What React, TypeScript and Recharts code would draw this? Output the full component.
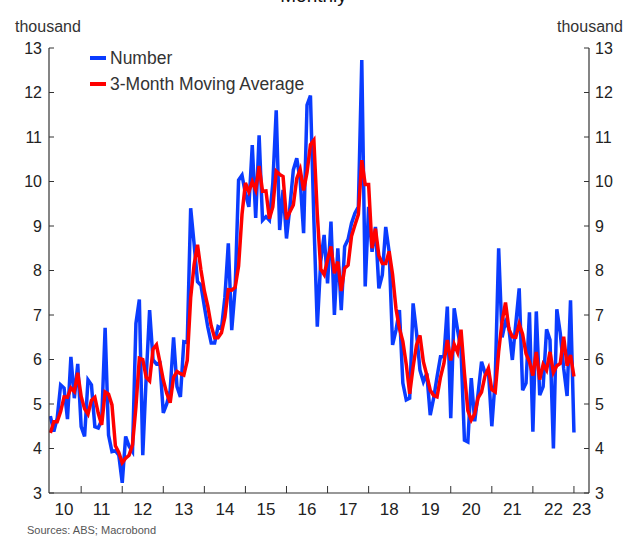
import { LineChart, Line, XAxis, YAxis } from "recharts";

// months counted from Jan 2010; first observation is Apr 2010
const START_MONTH = 3;

// Number, thousand (Apr 2010 - Jan 2023)
const number = [
  4.73, 4.38, 4.68, 5.43, 5.36, 4.66, 6.06, 5.13, 5.9,
  4.49, 4.27, 5.54, 5.43, 4.49, 4.46, 4.64, 6.71, 4.3, 3.93, 3.95, 3.85,
  3.23, 4.27, 4.05, 3.93, 6.81, 7.35, 3.85, 5.6, 7.11, 5.99, 5.9, 5.92,
  4.8, 5.0, 5.3, 6.5, 5.39, 5.16, 6.4, 6.38, 9.4, 8.6, 7.75, 7.67,
  7.19, 6.73, 6.37, 6.37, 6.74, 6.7, 7.4, 8.61, 6.66, 7.6, 10.03, 10.14,
  9.73, 9.43, 10.82, 9.18, 11.04, 9.13, 9.21, 9.13, 9.96, 11.6, 8.91, 9.81,
  8.72, 9.43, 10.26, 10.52, 10.03, 8.84, 11.72, 11.93, 9.14, 6.74, 8.2, 8.8,
  7.71, 9.1, 7.0, 8.5, 7.11, 8.54, 8.7, 9.06, 9.29, 9.43, 12.73, 7.64,
  9.43, 8.42, 8.98, 7.6, 7.9, 8.98, 8.42, 6.33, 6.66, 7.11, 5.47, 5.09,
  5.13, 7.26, 6.6, 5.76, 5.5, 5.69, 4.75, 5.13, 5.61, 6.06, 6.06, 7.19,
  4.68, 7.15, 6.66, 6.21, 4.19, 4.15, 5.58, 4.61, 5.24, 5.95, 5.7, 5.75,
  4.5, 5.55, 8.5, 6.5, 6.85, 6.7, 5.99, 6.8, 7.6, 5.31, 5.47, 7.06,
  4.38, 7.08, 5.2, 5.39, 6.68, 6.44, 4.0, 7.13, 6.59, 5.8, 5.18, 7.33,
  4.36,
];

// 3-month moving average, thousand
const movingAverage = [
  4.35, 4.6, 4.6, 4.83, 5.16, 5.15, 5.36, 5.28, 5.7,
  5.17, 4.89, 4.77, 5.08, 5.15, 4.79, 4.53, 5.27, 5.22, 4.98, 4.06, 3.91,
  3.68, 3.78, 3.85, 4.08, 4.93, 6.03, 6.0, 5.6, 5.52, 6.23, 6.33, 5.94,
  5.54, 5.24, 5.03, 5.6, 5.73, 5.68, 5.65, 5.98, 7.39, 8.13, 8.58, 8.01,
  7.54, 7.2, 6.76, 6.49, 6.49, 6.6, 6.95, 7.57, 7.56, 7.62, 8.1, 9.26,
  9.97, 9.77, 10.0, 9.81, 10.35, 9.78, 9.79, 9.16, 9.43, 10.23, 10.16, 10.11,
  9.15, 9.32, 9.47, 10.07, 10.27, 9.8, 10.2, 10.83, 10.93, 9.27, 8.03, 7.91,
  8.24, 8.54, 7.94, 8.2, 7.54, 8.05, 8.12, 8.77, 9.02, 9.26, 10.48, 9.93,
  9.93, 8.5, 8.94, 8.33, 8.16, 8.16, 8.43, 7.91, 7.14, 6.7, 6.41, 5.89,
  5.23, 5.83, 6.33, 6.54, 5.95, 5.65, 5.31, 5.19, 5.16, 5.6, 5.91, 6.44,
  5.98, 6.34, 6.16, 6.67, 5.69, 4.85, 4.64, 4.78, 5.14, 5.27, 5.63, 5.8,
  5.32, 5.27, 6.18, 6.85, 7.28, 6.68, 6.51, 6.5, 6.8, 6.57, 6.13, 5.95,
  5.64, 6.17, 5.55, 5.89, 5.76, 6.17, 5.71, 5.86, 5.91, 6.51, 5.86, 6.1,
  5.62,
];

const yearBreaks = [12, 24, 36, 48, 60, 72, 84, 96, 108, 120, 132, 144, 156];
const yearLabels = ["10", "11", "12", "13", "14", "15", "16", "17", "18", "19", "20", "21", "22", "23"];
const yearLabelPos = [7, 18, 30, 42, 54, 66, 78, 90, 102, 114, 126, 138, 150, 158.3];
const yTicks = [3, 4, 5, 6, 7, 8, 9, 10, 11, 12, 13];

const BLUE = "#0a3cff";
const RED = "#ff0000";
const AXIS = "#333333";
const TEXT = "#222222";
const FONT = "'Liberation Sans', Arial, sans-serif";

const data = number.map((v, i) => ({
  m: START_MONTH + i,
  number: v,
  avg: movingAverage[i],
}));

function XTick({ x, y, payload }: any) {
  const idx = yearLabelPos.indexOf(payload.value);
  if (idx >= 0) {
    return (
      <text x={x} y={y + 22} textAnchor="middle" fontSize={17} fill={TEXT} fontFamily={FONT}>
        {yearLabels[idx]}
      </text>
    );
  }
  return <line x1={x} x2={x} y1={y} y2={y - 7} stroke={AXIS} />;
}

function LeftTick({ x, y, payload }: any) {
  return (
    <g>
      <line x1={x} x2={x + 5} y1={y} y2={y} stroke={AXIS} />
      <text x={x - 7} y={y} dy="0.35em" textAnchor="end" fontSize={16} fill={TEXT} fontFamily={FONT}>
        {payload.value}
      </text>
    </g>
  );
}

function RightTick({ x, y, payload }: any) {
  return (
    <g>
      <line x1={x} x2={x - 5} y1={y} y2={y} stroke={AXIS} />
      <text x={x + 6} y={y} dy="0.35em" textAnchor="start" fontSize={16} fill={TEXT} fontFamily={FONT}>
        {payload.value}
      </text>
    </g>
  );
}

function LegendRow({ color, label, top }: { color: string; label: string; top: number }) {
  return (
    <div style={{ position: "absolute", left: 90, top, display: "flex", alignItems: "center", height: 20 }}>
      <div style={{ width: 16, height: 4, background: color, marginRight: 4 }} />
      <span style={{ fontSize: 17.5, color: "#333", fontFamily: FONT, lineHeight: "20px" }}>{label}</span>
    </div>
  );
}

export default function App() {
  return (
    <div
      style={{
        position: "absolute",
        left: 0,
        top: 0,
        width: 627,
        height: 540,
        background: "#fff",
        overflow: "hidden",
        fontFamily: FONT,
      }}
    >
      <div style={{ position: "absolute", left: 0, width: 627, top: -14, textAlign: "center", fontSize: 19, lineHeight: "19px", color: "#111" }}>
        Monthly
      </div>
      <div style={{ position: "absolute", left: 15, top: 19, fontSize: 16, lineHeight: "16px", color: "#333" }}>thousand</div>
      <div style={{ position: "absolute", left: 557, top: 19, fontSize: 16, lineHeight: "16px", color: "#333" }}>thousand</div>

      <LineChart width={627} height={540} data={data} margin={{ top: 48, right: 0, bottom: 0, left: 0 }}>
        <XAxis
          dataKey="m"
          type="number"
          domain={[2.6, 160.4]}
          allowDataOverflow
          ticks={[...yearBreaks, ...yearLabelPos]}
          interval={0}
          tickLine={false}
          tickSize={0}
          tickMargin={0}
          height={47}
          axisLine={{ stroke: AXIS, strokeWidth: 1.2 }}
          tick={<XTick />}
        />
        <YAxis
          yAxisId="left"
          domain={[3, 13]}
          ticks={yTicks}
          interval={0}
          width={49}
          tickLine={false}
          tickSize={0}
          tickMargin={0}
          axisLine={{ stroke: AXIS, strokeWidth: 1.2 }}
          tick={<LeftTick />}
        />
        <YAxis
          yAxisId="right"
          orientation="right"
          domain={[3, 13]}
          ticks={yTicks}
          interval={0}
          width={38}
          tickLine={false}
          tickSize={0}
          tickMargin={0}
          axisLine={{ stroke: AXIS, strokeWidth: 1.2 }}
          tick={<RightTick />}
        />
        {/* invisible series so the mirrored right axis gets drawn */}
        <Line
          yAxisId="right"
          type="linear"
          dataKey="number"
          stroke="none"
          strokeWidth={0}
          dot={false}
          activeDot={false}
          isAnimationActive={false}
        />
        <Line
          yAxisId="left"
          type="linear"
          dataKey="number"
          stroke={BLUE}
          strokeWidth={3.5}
          dot={false}
          isAnimationActive={false}
        />
        <Line
          yAxisId="left"
          type="linear"
          dataKey="avg"
          stroke={RED}
          strokeWidth={3.5}
          dot={false}
          isAnimationActive={false}
        />
      </LineChart>

      <LegendRow color={BLUE} label="Number" top={48} />
      <LegendRow color={RED} label="3-Month Moving Average" top={74} />

      <div style={{ position: "absolute", left: 27, top: 524, fontSize: 11, lineHeight: "12px", color: "#555" }}>
        Sources: ABS; Macrobond
      </div>
    </div>
  );
}
